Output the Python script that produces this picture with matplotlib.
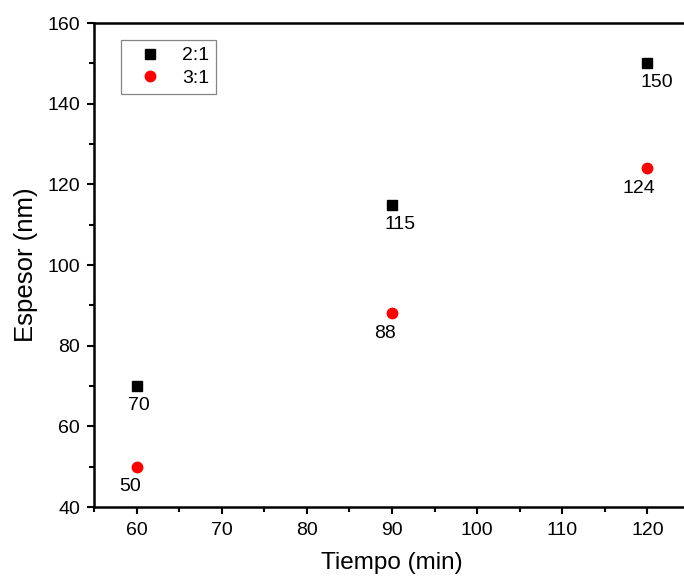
import matplotlib
matplotlib.use("Agg")
import matplotlib.pyplot as plt

tiempo = [60, 90, 120]
espesor_21 = [70, 115, 150]
espesor_31 = [50, 88, 124]

plt.rcParams['font.family'] = ['Liberation Sans', 'DejaVu Sans']

fig = plt.figure(figsize=(6.84, 5.80), dpi=100)
ax = fig.add_axes([94/684, 1 - 507/580, 596/684, 484/580])

ax.plot(tiempo, espesor_21, ls='none', marker='s', ms=6.5, color='black', label='2:1')
ax.plot(tiempo, espesor_31, ls='none', marker='o', ms=7.5, color='red', label='3:1')

# horizontal label shifts (points) so numbers sit clear of the markers
dx_21 = [1.5, 6, 6.5]
dx_31 = [-4.5, -5, -6]
for x, y, dx in zip(tiempo, espesor_21, dx_21):
    ax.annotate(f"{y}", (x, y), xytext=(dx, -8), textcoords='offset points',
                ha='center', va='top', fontsize=14)
for x, y, dx in zip(tiempo, espesor_31, dx_31):
    ax.annotate(f"{y}", (x, y), xytext=(dx, -8.5), textcoords='offset points',
                ha='center', va='top', fontsize=14)

ax.set_xlim(55, 125)
ax.set_ylim(40, 160)
ax.set_xticks(range(60, 121, 10))
ax.set_xticks(range(55, 126, 10), minor=True)
ax.set_yticks(range(40, 161, 20))
ax.set_yticks(range(50, 161, 20), minor=True)
ax.tick_params(which='major', direction='out', length=5, width=1.5, labelsize=14)
ax.tick_params(axis='x', which='major', pad=6)
ax.tick_params(axis='y', which='major', pad=5)
ax.tick_params(which='minor', direction='out', length=3.5, width=1.5)
for s in ax.spines.values():
    s.set_linewidth(1.8)

ax.set_xlabel('Tiempo (min)', fontsize=17.5, labelpad=9)
ax.set_ylabel('Espesor (nm)', fontsize=18.5, labelpad=7)

leg = ax.legend(loc='upper left', bbox_to_anchor=(27/596, 1 - 17/484), fontsize=14,
                frameon=True, fancybox=False, edgecolor='#666666',
                handletextpad=0.55, borderpad=0.35, labelspacing=0.25, handlelength=2.25,
                borderaxespad=0)
leg.get_frame().set_linewidth(0.9)

fig.savefig('out.png', dpi=100)
